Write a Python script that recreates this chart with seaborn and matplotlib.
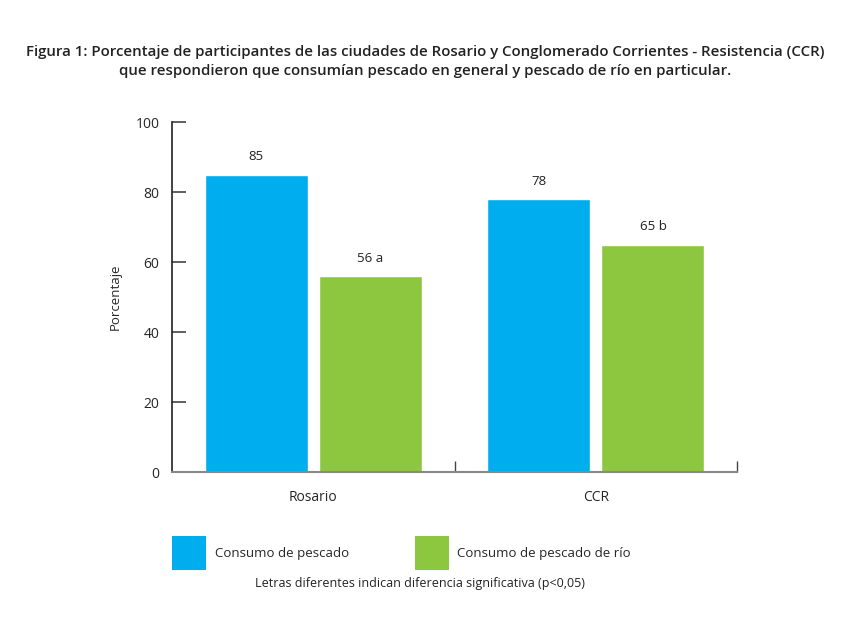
import numpy as np
import pandas as pd
import matplotlib
matplotlib.use('Agg')
import matplotlib.pyplot as plt
from matplotlib.patches import Patch
import seaborn as sns

# Data
ciudades = ['Rosario', 'CCR']
series = ['Consumo de pescado', 'Consumo de pescado de río']
pescado = [85, 78]
pescado_rio = [56, 65]
letras_pescado = ['', '']
letras_rio = ['a', 'b']
yticks = [0, 20, 40, 60, 80, 100]

df = pd.DataFrame({
    'ciudad': ciudades * 2,
    'serie': [series[0]] * 2 + [series[1]] * 2,
    'valor': pescado + pescado_rio,
})

sns.set_style('white')
plt.rcParams['font.family'] = ['Open Sans', 'DejaVu Sans']

colores = {series[0]: '#00AEEF', series[1]: '#8DC63F'}

fig = plt.figure(figsize=(8.5, 6.37), dpi=100)
ax = fig.add_axes([172 / 850, 1 - 472 / 637, 565 / 850, 350 / 637])

sns.barplot(data=df, x='ciudad', y='valor', hue='serie', order=ciudades,
            hue_order=series, palette=colores, width=0.81, gap=0.1,
            saturation=1, ax=ax, legend=False)

ax.set_xlim(-0.5, 1.5)
ax.set_ylim(0, 100)
ax.set_yticks(yticks)
ax.set_xlabel('')
ax.set_ylabel('Porcentaje', fontsize=9.5, labelpad=10)

# Bar labels
etiquetas = [
    [f'{v}' + (f' {l}' if l else '') for v, l in zip(pescado, letras_pescado)],
    [f'{v}' + (f' {l}' if l else '') for v, l in zip(pescado_rio, letras_rio)],
]
for cont, labs in zip(ax.containers, etiquetas):
    ax.bar_label(cont, labels=labs, padding=8, fontsize=9.5, color='#222222')

# Spines and ticks
for s in ['top', 'right']:
    ax.spines[s].set_visible(False)
ax.spines['left'].set_color('#222222')
ax.spines['left'].set_linewidth(1.2)
ax.spines['bottom'].set_color('#888888')
ax.spines['bottom'].set_linewidth(1.5)
ax.tick_params(axis='y', direction='in', length=10, width=1.2,
               color='#444444', labelsize=10, pad=9, left=True)
ax.tick_params(axis='x', length=0, labelsize=10, pad=13)
ax.set_xticks([0.5, 1.5], minor=True)
ax.tick_params(axis='x', which='minor', direction='in', length=8,
               width=1, color='#444444', bottom=True)

# Legend at the bottom
handles = [Patch(facecolor=colores[s], edgecolor='none', label=s) for s in series]
fig.legend(handles=handles, loc='upper left',
           bbox_to_anchor=(172 / 850, 1 - 536 / 637), ncol=2,
           frameon=False, fontsize=9.5, handlelength=2.58, handleheight=3.6,
           handletextpad=0.65, columnspacing=5.0, borderpad=0, borderaxespad=0)

fig.text(420 / 850, 1 - 583 / 637,
         'Letras diferentes indican diferencia significativa (p<0,05)',
         ha='center', va='center', fontsize=9, color='#222222')

fig.text(0.5, 1 - 52 / 637,
         'Figura 1: Porcentaje de participantes de las ciudades de Rosario y '
         'Conglomerado Corrientes - Resistencia (CCR)',
         ha='center', va='center', fontsize=10.8, fontweight='semibold',
         color='#222222')
fig.text(0.5, 1 - 71 / 637,
         'que respondieron que consumían pescado en general y pescado de río '
         'en particular.',
         ha='center', va='center', fontsize=10.8, fontweight='semibold',
         color='#222222')

fig.savefig('out.png', dpi=100)
